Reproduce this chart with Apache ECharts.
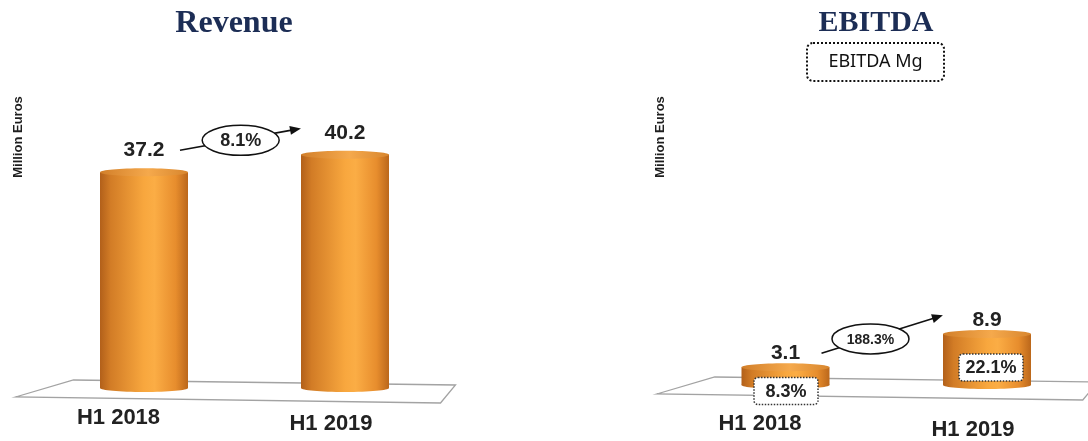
<!DOCTYPE html>
<html>
<head>
<meta charset="utf-8">
<script src="https://cdn.jsdelivr.net/npm/echarts@6/dist/echarts.min.js"></script>
<style>
  html, body { margin: 0; padding: 0; background: #ffffff; }
  #chart { width: 1088px; height: 441px; }
</style>
</head>
<body>
<div id="chart"></div>
<script>
// Half-year figures, million euros
const periods = ['H1 2018', 'H1 2019'];
const revenue = [37.2, 40.2];
const ebitda = [3.1, 8.9];
const ebitdaMargin = [8.3, 22.1];   // EBITDA margin, %
const revenueGrowth = 8.1;          // %
const ebitdaGrowth = 188.3;         // %
const yMax = 50;

// Layout of the two panels
const panels = [
  { title: 'Revenue', titleX: 234, titleSize: 32, left: 43.5, width: 402,
    values: revenue, margins: null, growth: revenueGrowth,
    labelGap: 22, growthT: 0.51, growthFont: 18, xMargin: 19, yLabelX: 18 },
  { title: 'EBITDA', titleX: 876, titleSize: 30, left: 684.75, width: 403,
    values: ebitda, margins: ebitdaMargin, growth: ebitdaGrowth,
    labelGap: 14, growthT: 0.41, growthFont: 14, xMargin: 28, yLabelX: 660 }
];
const BASE_Y = 388;
const GRID_H = 290;
const BAR_W = 88;
const CAP_RY = 4;
const TEXT = '#222222';
const SANS_FAMILY = '"Liberation Sans", Arial, sans-serif';
const SANS = SANS_FAMILY;

const bodyFill = {
  type: 'linear', x: 0, y: 0, x2: 1, y2: 0,
  colorStops: [
    { offset: 0, color: '#b2601a' },
    { offset: 0.12, color: '#d27c26' },
    { offset: 0.5, color: '#f8a73e' },
    { offset: 0.62, color: '#fbad45' },
    { offset: 0.86, color: '#e78d2d' },
    { offset: 1, color: '#bb671b' }
  ]
};
const capFill = {
  type: 'linear', x: 0, y: 0, x2: 1, y2: 0,
  colorStops: [
    { offset: 0, color: '#d27f2a' },
    { offset: 0.55, color: '#f5a94c' },
    { offset: 1, color: '#d8862e' }
  ]
};

function renderCylinder(panel) {
  return function (params, api) {
    const idx = api.value(0);
    const v = api.value(1);
    const top = api.coord([idx, v]);
    const bottom = api.coord([idx, 0]);
    const cx = top[0];
    const rx = BAR_W / 2;
    const children = [];

    // Floor plate behind the cylinders
    if (idx === 0) {
      const cs = params.coordSys;
      const l = cs.x, r = cs.x + cs.width, b = bottom[1];
      children.push({
        type: 'polygon',
        shape: { points: [[l - 28, b + 9], [l + 30, b - 8], [r + 10, b - 3], [r - 5, b + 15]] },
        style: { fill: '#ffffff', stroke: '#a3a3a3', lineWidth: 1.3 }
      });
    }

    children.push(
      { type: 'ellipse', shape: { cx: cx, cy: bottom[1], rx: rx, ry: CAP_RY }, style: { fill: bodyFill } },
      { type: 'rect', shape: { x: cx - rx, y: top[1], width: BAR_W, height: bottom[1] - top[1] }, style: { fill: bodyFill } },
      { type: 'ellipse', shape: { cx: cx, cy: top[1], rx: rx, ry: CAP_RY }, style: { fill: capFill } },
      { type: 'text', style: {
          text: v.toFixed(1), x: cx, y: top[1] - CAP_RY - panel.labelGap + 4,
          align: 'center', verticalAlign: 'middle',
          font: 'bold 21px ' + SANS, fill: TEXT } }
    );

    // Margin tag on the cylinder
    if (panel.margins) {
      const h = bottom[1] - top[1];
      const boxY = h < 40 ? bottom[1] + 6 : (top[1] + bottom[1]) / 2 + 8;
      const bx = cx + (h < 40 ? 0.5 : 4);
      children.push(
        { type: 'rect', shape: { x: bx - 32, y: boxY - 13.5, width: 64, height: 27, r: 4 },
          style: { fill: '#ffffff', stroke: '#333333', lineWidth: 1.5, lineDash: [1.5, 1.5] } },
        { type: 'text', style: {
            text: panel.margins[idx].toFixed(1) + '%', x: bx, y: boxY + 1,
            align: 'center', verticalAlign: 'middle',
            font: 'bold 18px ' + SANS, fill: TEXT } }
      );
    }

    // Growth arrow between the two periods
    if (idx === 1) {
      const prev = api.coord([0, panel.values[0]]);
      const y0 = prev[1] - CAP_RY - panel.labelGap + 4;
      const y1 = top[1] - CAP_RY - panel.labelGap + 4 - 4;
      const sx = prev[0] + 36, sy = y0;
      const ex = cx - 46, ey = y1;
      const dx = ex - sx, dy = ey - sy;
      const len = Math.sqrt(dx * dx + dy * dy);
      const ux = dx / len, uy = dy / len;
      const nx = -uy, ny = ux;
      const mx = sx + dx * panel.growthT, my = sy + dy * panel.growthT + 1;
      children.push(
        { type: 'line', shape: { x1: sx, y1: sy, x2: ex - ux * 6, y2: ey - uy * 6 },
          style: { stroke: '#111111', lineWidth: 1.6 } },
        { type: 'polygon',
          shape: { points: [[ex + ux * 2, ey + uy * 2],
                            [ex - ux * 9 + nx * 4.5, ey - uy * 9 + ny * 4.5],
                            [ex - ux * 9 - nx * 4.5, ey - uy * 9 - ny * 4.5]] },
          style: { fill: '#111111' } },
        { type: 'ellipse', shape: { cx: mx, cy: my, rx: 38.5, ry: 15 },
          style: { fill: '#ffffff', stroke: '#111111', lineWidth: 1.5 } },
        { type: 'text', style: {
            text: panel.growth.toFixed(1) + '%', x: mx, y: my + 1,
            align: 'center', verticalAlign: 'middle',
            font: 'bold ' + panel.growthFont + 'px ' + SANS, fill: TEXT } }
      );
    }

    return { type: 'group', children: children };
  };
}

const chart = echarts.init(document.getElementById('chart'), null, { renderer: 'canvas' });

const periodLabel = { fontFamily: SANS_FAMILY, fontWeight: 'bold', fontSize: 22, color: TEXT };

chart.setOption({
  animation: false,
  backgroundColor: '#ffffff',
  title: panels.map(p => ({
    text: p.title, left: p.titleX, top: 8, textAlign: 'center', padding: 0,
    textStyle: { fontFamily: '"Liberation Serif", serif', fontWeight: 'bold',
                 fontSize: p.titleSize, color: '#1c2d55' }
  })),
  grid: panels.map(p => ({
    left: p.left, width: p.width, top: BASE_Y - GRID_H, height: GRID_H
  })),
  xAxis: panels.map((p, i) => ({
    type: 'category', gridIndex: i, data: periods,
    axisLine: { show: false }, axisTick: { show: false },
    axisLabel: {
      interval: 0, margin: p.xMargin,
      fontFamily: SANS_FAMILY, fontWeight: 'bold', fontSize: 22, color: TEXT,
      formatter: (val, k) => (k === 0 ? '{a|' + val + '}' : '{b|' + val + '}'),
      rich: {
        a: Object.assign({ padding: [0, 51, 0, 0] }, periodLabel),
        b: Object.assign({ padding: [6, 28, 0, 0] }, periodLabel)
      }
    }
  })),
  yAxis: panels.map((p, i) => ({
    type: 'value', gridIndex: i, min: 0, max: yMax, show: false
  })),
  series: panels.map((p, i) => ({
    type: 'custom', xAxisIndex: i, yAxisIndex: i,
    data: p.values.map((v, k) => [k, v]),
    encode: { x: 0, y: 1 },
    renderItem: renderCylinder(p),
    clip: false, z: 5
  })),
  graphic: [
    ...panels.map(p => ({
      type: 'text', x: p.yLabelX, y: 137, rotation: Math.PI / 2,
      style: { text: 'Million Euros', font: 'bold 13px ' + SANS, fill: '#1e1e1e',
               align: 'center', verticalAlign: 'middle' }
    })),
    {
      type: 'group', left: 806, top: 42,
      children: [
        { type: 'rect', shape: { x: 0, y: 0, width: 137, height: 38, r: 6 },
          style: { fill: '#ffffff', stroke: '#111111', lineWidth: 2, lineDash: [2, 2] } },
        { type: 'text', x: 68.5, y: 19,
          style: { text: 'EBITDA Mg', font: '18px "Noto Sans", sans-serif', fill: '#111111',
                   align: 'center', verticalAlign: 'middle' } }
      ]
    }
  ]
});
</script>
</body>
</html>
